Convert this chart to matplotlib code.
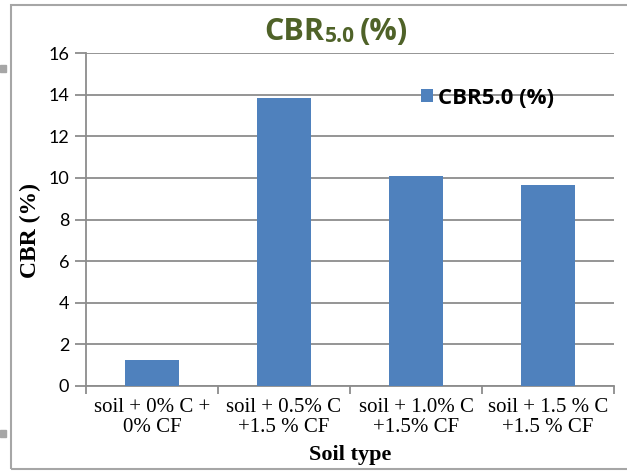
import numpy as np
import matplotlib.pyplot as plt
from matplotlib.patches import Rectangle

# data
categories = ["soil + 0% C +\n0% CF", "soil + 0.5% C\n+1.5 % CF",
              "soil + 1.0% C\n+1.5% CF", "soil + 1.5 % C\n+1.5 % CF"]
cbr = [1.25, 13.85, 10.1, 9.65]
yticks = [0, 2, 4, 6, 8, 10, 12, 14, 16]

bar_col = "#4F81BD"
grid_col = "#8C8C8C"
sans = ["Lato", "DejaVu Sans"]
bold_sans = ["Open Sans", "DejaVu Sans"]
serif = ["Liberation Serif", "DejaVu Serif"]

fig = plt.figure(figsize=(6.27, 4.72), dpi=100)
ax = fig.add_axes([86/627, 1-386/472, (614-86)/627, (386-53)/472])

x = np.arange(len(categories))
ax.bar(x, cbr, width=0.41, color=bar_col, zorder=3, label="CBR5.0 (%)")

ax.set_ylim(0, 16)
ax.set_xlim(-0.5, len(categories)-0.5)
ax.set_yticks(yticks)
ax.set_yticklabels([str(t) for t in yticks], family=sans, fontsize=13)
ax.grid(axis="y", color=grid_col, linewidth=1.3, zorder=0)
ax.tick_params(axis="y", length=8, color=grid_col, width=1.3, pad=4)

# category ticks at boundaries, labels in the middle
ax.set_xticks(np.arange(len(categories)+1)-0.5)
ax.set_xticklabels([])
ax.set_xticks(x, minor=True)
ax.set_xticklabels(categories, minor=True, family=serif, fontsize=15, linespacing=1.05)
ax.tick_params(axis="x", which="major", length=6, color=grid_col, width=1.3)
ax.tick_params(axis="x", which="minor", length=0, pad=9)

for s in ["top", "right"]:
    ax.spines[s].set_visible(False)
for s in ["left", "bottom"]:
    ax.spines[s].set_color(grid_col)
    ax.spines[s].set_linewidth(1.3)

# title with smaller 5.0, pieces placed one after another
tcol = "#4F6228"
r = fig.canvas.get_renderer()
t1 = fig.text(264/627, 1-32/472, "CBR", family=bold_sans, fontsize=22, fontweight="bold",
              color=tcol, ha="left", va="center")
x1 = t1.get_window_extent(r).x1 / fig.bbox.width
t2 = fig.text(x1 + 1/627, 1-36/472, "5.0", family=bold_sans, fontsize=15, fontweight="bold",
              color=tcol, ha="left", va="center")
x2 = t2.get_window_extent(r).x1 / fig.bbox.width
fig.text(x2 + 5/627, 1-32/472, "(%)", family=bold_sans, fontsize=22, fontweight="bold",
         color=tcol, ha="left", va="center")

leg = ax.legend(loc="center left", bbox_to_anchor=(421/627, 1-98/472),
                bbox_transform=fig.transFigure, frameon=False,
                prop={"family": bold_sans, "size": 16, "weight": "bold"},
                handlelength=0.55, handleheight=0.55, handletextpad=0.2,
                borderpad=0, borderaxespad=0)

fig.text(30/627, 1-230/472, "CBR (%)", family=serif, fontsize=17, fontweight="bold",
         rotation=90, ha="center", va="center")
fig.text(350/627, 1-455/472, "Soil type", family=serif, fontsize=16, fontweight="bold",
         ha="center", va="center")

# chart frame and handles
fig.patches.append(Rectangle((11/627, 1-469/472), 640/627, 464/472, transform=fig.transFigure,
                             fill=False, edgecolor="#A6A6A6", linewidth=1.5))
fig.patches.append(Rectangle((0, 1-72/472), 6/627, 7/472, transform=fig.transFigure,
                             color="#A6A6A6"))
fig.patches.append(Rectangle((0, 1-437/472), 6/627, 7/472, transform=fig.transFigure,
                             color="#A6A6A6"))

fig.savefig("out.png", dpi=100)
